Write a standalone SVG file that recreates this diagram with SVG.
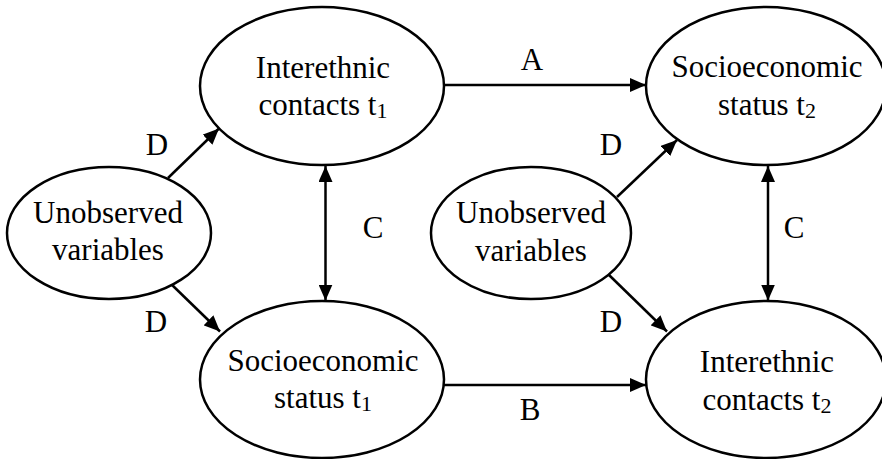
<svg xmlns="http://www.w3.org/2000/svg" width="882" height="459" viewBox="0 0 882 459">
<style>
.n{fill:#fff;stroke:#000;stroke-width:2.5}
.t{font-family:"Liberation Serif","Times New Roman",serif;font-size:31px;fill:#000;text-anchor:middle}
.s{font-size:22px}
.c{stroke:#000;stroke-width:2.5;fill:none}
</style>
<defs>
<marker id="ah" markerUnits="userSpaceOnUse" markerWidth="16" markerHeight="14" refX="16" refY="7" orient="auto-start-reverse">
<path d="M0,0 L16,7 L0,14 z" fill="#000"/>
</marker>
</defs>
<rect width="882" height="459" fill="#fff"/>
<g id="connectors">
<line class="c" x1="443" y1="85" x2="646" y2="85" marker-end="url(#ah)"/>
<line class="c" x1="443" y1="385" x2="646" y2="385" marker-end="url(#ah)"/>
<line class="c" x1="325.5" y1="166" x2="325.5" y2="300.5" marker-start="url(#ah)" marker-end="url(#ah)"/>
<line class="c" x1="768" y1="166" x2="768" y2="300.5" marker-start="url(#ah)" marker-end="url(#ah)"/>
<line class="c" x1="168" y1="178" x2="219" y2="128.5" marker-end="url(#ah)"/>
<line class="c" x1="170" y1="283" x2="220" y2="331.5" marker-end="url(#ah)"/>
<line class="c" x1="617" y1="197" x2="677" y2="140" marker-end="url(#ah)"/>
<line class="c" x1="609" y1="275" x2="667" y2="331.5" marker-end="url(#ah)"/>
<text class="t" x="532" y="70">A</text>
<text class="t" x="530" y="420">B</text>
<text class="t" x="373" y="238">C</text>
<text class="t" x="794" y="238">C</text>
<text class="t" x="157" y="155">D</text>
<text class="t" x="156" y="332">D</text>
<text class="t" x="611" y="155">D</text>
<text class="t" x="611" y="332">D</text>
</g>
<g id="interethnic-t1">
<ellipse class="n" cx="322" cy="86" rx="122" ry="79"/>
<text class="t" x="323" y="78">Interethnic</text>
<text class="t" x="323" y="115">contacts t<tspan class="s" dy="3">1</tspan></text>
</g>
<g id="socioeconomic-t2">
<ellipse class="n" cx="766" cy="86" rx="120" ry="79"/>
<text class="t" x="767" y="77">Socioeconomic</text>
<text class="t" x="767" y="115">status t<tspan class="s" dy="3">2</tspan></text>
</g>
<g id="unobserved-left">
<ellipse class="n" cx="109" cy="233" rx="102" ry="66"/>
<text class="t" x="108" y="223">Unobserved</text>
<text class="t" x="108" y="260">variables</text>
</g>
<g id="unobserved-right">
<ellipse class="n" cx="531" cy="233" rx="100" ry="66"/>
<text class="t" x="531" y="223">Unobserved</text>
<text class="t" x="531" y="261">variables</text>
</g>
<g id="socioeconomic-t1">
<ellipse class="n" cx="322" cy="379.5" rx="122" ry="78.5"/>
<text class="t" x="323" y="371">Socioeconomic</text>
<text class="t" x="323" y="408">status t<tspan class="s" dy="3">1</tspan></text>
</g>
<g id="interethnic-t2">
<ellipse class="n" cx="766" cy="379.5" rx="120" ry="78.5"/>
<text class="t" x="767" y="372">Interethnic</text>
<text class="t" x="767" y="410">contacts t<tspan class="s" dy="3">2</tspan></text>
</g>
</svg>
